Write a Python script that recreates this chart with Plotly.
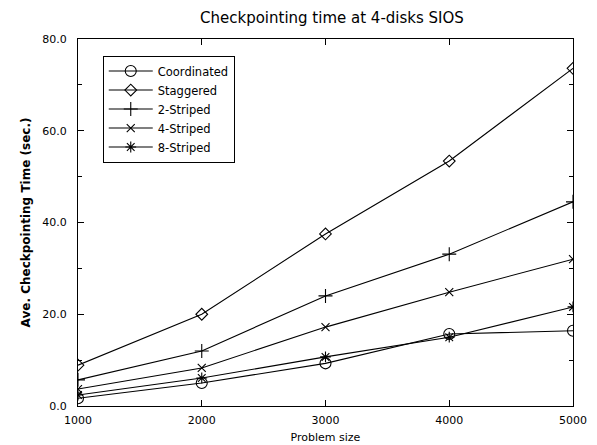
import plotly.graph_objects as go

problem_size = [1000, 2000, 3000, 4000, 5000]
coordinated = [1.7, 5.0, 9.3, 15.7, 16.4]
staggered = [8.9, 20.0, 37.5, 53.4, 73.6]
striped2 = [5.7, 12.0, 24.0, 33.1, 44.5]
striped4 = [3.7, 8.3, 17.2, 24.8, 32.0]
striped8 = [2.4, 6.1, 10.7, 15.0, 21.6]
y_ticks = [0, 20, 40, 60, 80]

series = [
    ("Coordinated", coordinated, "circle-open", 11),
    ("Staggered", staggered, "diamond-open", 9),
    ("2-Striped", striped2, "cross-thin-open", 10),
    ("4-Striped", striped4, "x-thin-open", 8),
    ("8-Striped", striped8, "asterisk-open", 9),
]

fig = go.Figure()
for name, vals, sym, sz in series:
    fig.add_trace(go.Scatter(
        x=problem_size, y=vals, name=name, mode="lines+markers",
        line=dict(color="black", width=1.1),
        marker=dict(symbol=sym, size=sz, color="black",
                    line=dict(color="black", width=1.1)),
    ))

font = "DejaVu Sans, Arial, sans-serif"
fig.update_layout(
    width=589, height=437,
    margin=dict(l=70, r=24, t=31, b=39, autoexpand=False),
    paper_bgcolor="white", plot_bgcolor="white",
    font=dict(family=font, color="black", size=11),
    title=dict(text="Checkpointing time at 4-disks SIOS", x=0.55, xanchor="center",
               y=0.977, yanchor="middle", font=dict(size=15, family=font)),
    showlegend=True,
    legend=dict(x=0.05, y=0.955, xanchor="left", yanchor="top",
                bordercolor="black", borderwidth=1, bgcolor="white",
                font=dict(size=11.5, family=font), tracegroupgap=0,
                itemwidth=44),
)
fig.update_xaxes(
    range=[1000, 5000], tickvals=problem_size, ticks="inside", ticklen=6,
    tickcolor="black", showline=True, linecolor="black", linewidth=1.2,
    mirror="ticks", showgrid=False, zeroline=False, automargin=False,
    title=dict(text="Problem size", font=dict(size=11), standoff=7),
    tickfont=dict(size=11), ticklabelstandoff=4,
)
fig.update_yaxes(
    range=[0, 80], tickvals=y_ticks, tickformat=".1f", ticks="inside", ticklen=6,
    tickcolor="black", showline=True, linecolor="black", linewidth=1.2,
    mirror="ticks", showgrid=False, zeroline=False, automargin=False,
    minor=dict(tickvals=[10, 30, 50, 70], ticks="inside", ticklen=4, tickcolor="black"),
    title=dict(text="<b>Ave. Checkpointing Time (sec.)</b>", font=dict(size=12), standoff=9),
    tickfont=dict(size=11), ticklabelstandoff=8,
)
fig.write_html("out.html")
